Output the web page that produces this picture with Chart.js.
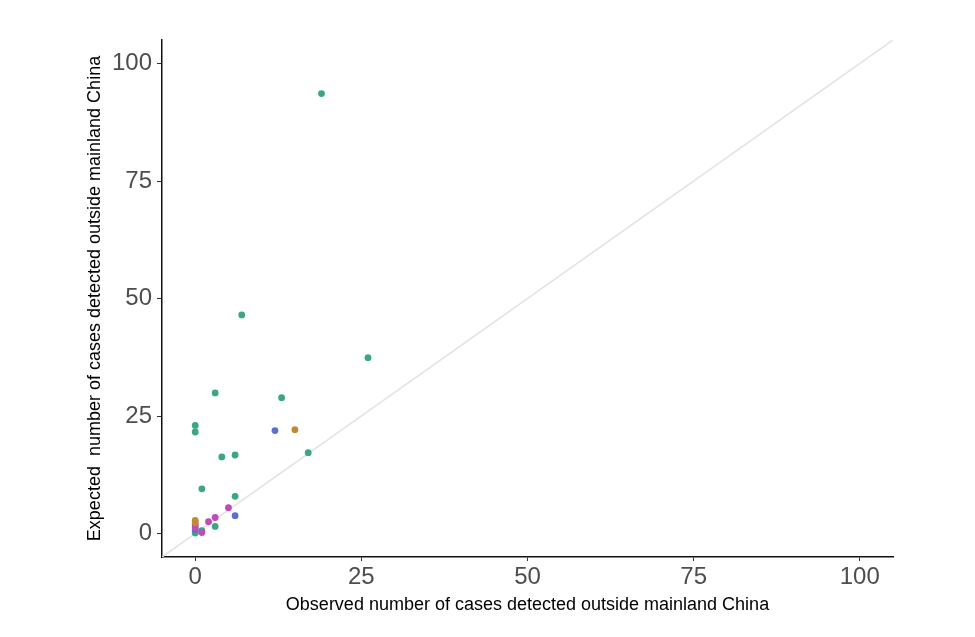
<!DOCTYPE html>
<html>
<head>
<meta charset="utf-8">
<script src="https://cdn.jsdelivr.net/npm/chart.js@4"></script>
<style>
  html, body { margin: 0; padding: 0; background: #ffffff; }
  #wrap { width: 975px; height: 637px; position: relative; }
</style>
</head>
<body>
<div id="wrap"><canvas id="c" width="975" height="637"></canvas></div>
<script>
// Axis ticks and titles
const tickValues = [0, 25, 50, 75, 100];
const xTitle = "Observed number of cases detected outside mainland China";
const yTitle = "Expected  number of cases detected outside mainland China";

// Series (observed x, expected y)
const greenX = [19, 7, 26, 3, 13, 0, 0, 17, 4, 6, 1, 6, 3, 1, 0, 0, 0];
const greenY = [93.6, 46.5, 37.4, 29.9, 28.9, 23.0, 21.6, 17.2, 16.3, 16.7, 9.5, 7.9, 1.5, 0.6, 1.6, 0.4, 0.1];
const blueX = [12, 6, 0];
const blueY = [21.9, 3.8, 0.8];
const orangeX = [15, 0, 0];
const orangeY = [22.1, 2.8, 2.3];
const magentaX = [5, 3, 2, 1, 0, 0];
const magentaY = [5.5, 3.4, 2.5, 0.2, 2.0, 1.2];
const diagX = [-5, 105];
const diagY = [-5, 105];

const zip = (xs, ys) => xs.map((x, i) => ({ x: x, y: ys[i] }));

const tickFont = { family: "'Liberation Sans', Arial, sans-serif", size: 24 };
const titleFont = { family: "'Liberation Sans', Arial, sans-serif", size: 18 };

const pointDs = (label, xs, ys, color, order) => ({
  type: 'scatter',
  label: label,
  data: zip(xs, ys),
  backgroundColor: color,
  borderColor: color,
  borderWidth: 0,
  pointRadius: 3.4,
  pointHoverRadius: 3.4,
  order: order
});

new Chart(document.getElementById('c'), {
  type: 'scatter',
  data: {
    datasets: [
      {
        type: 'line',
        label: 'y = x',
        data: zip(diagX, diagY),
        borderColor: '#e3e3e3',
        borderWidth: 1.5,
        pointRadius: 0,
        fill: false,
        order: 10
      },
      pointDs('green', greenX, greenY, '#3aa682', 4),
      pointDs('blue', blueX, blueY, '#5b6fcf', 3),
      pointDs('magenta', magentaX, magentaY, '#c04bba', 2),
      pointDs('orange', orangeX, orangeY, '#c08a35', 1)
    ]
  },
  options: {
    responsive: false,
    animation: false,
    devicePixelRatio: 1,
    layout: { padding: { left: 0, right: 82, top: 40, bottom: 0 } },
    plugins: { legend: { display: false }, tooltip: { enabled: false } },
    scales: {
      x: {
        type: 'linear',
        min: -5, max: 105,
        afterFit: s => { s.height = 80; },
        afterBuildTicks: s => { s.ticks = tickValues.map(v => ({ value: v })); },
        grid: { display: true, drawOnChartArea: false, drawTicks: true, tickLength: 4, color: '#333333', lineWidth: 1 },
        border: { display: true, color: '#111111', width: 1.5 },
        ticks: { font: tickFont, color: '#4d4d4d', padding: 2, maxRotation: 0, autoSkip: false },
        title: { display: true, text: xTitle, font: titleFont, color: '#000000', padding: { top: 4, bottom: 21 } }
      },
      y: {
        type: 'linear',
        min: -5, max: 105,
        afterFit: s => { s.width = 162; },
        afterBuildTicks: s => { s.ticks = tickValues.map(v => ({ value: v })); },
        grid: { display: true, drawOnChartArea: false, drawTicks: true, tickLength: 5, color: '#333333', lineWidth: 1 },
        border: { display: true, color: '#111111', width: 1.5 },
        ticks: { font: tickFont, color: '#4d4d4d', padding: 5, autoSkip: false },
        title: { display: true, text: yTitle, font: titleFont, color: '#000000', padding: { top: 84, bottom: 0 } }
      }
    }
  }
});
</script>
</body>
</html>
